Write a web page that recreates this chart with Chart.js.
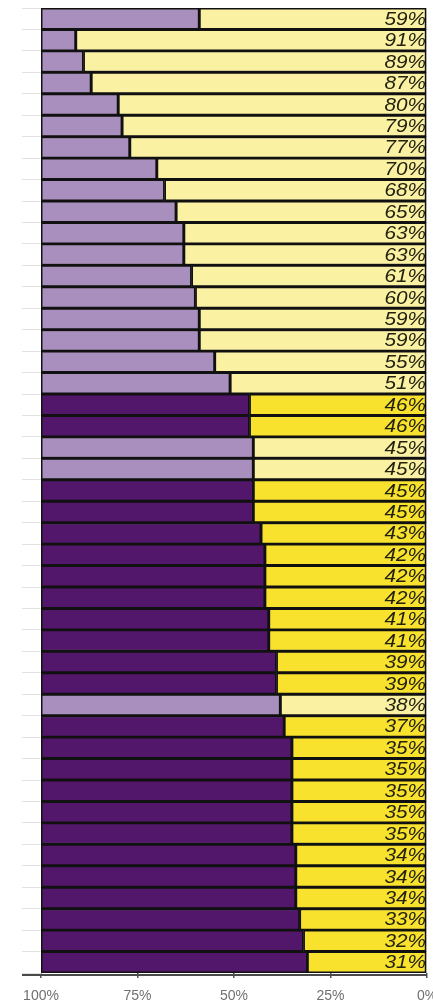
<!DOCTYPE html>
<html>
<head>
<meta charset="utf-8">
<script src="https://cdn.jsdelivr.net/npm/chart.js@4"></script>
<style>
  html,body{margin:0;padding:0;background:#fff;}
  #wrap{width:433px;height:1006px;position:relative;}
</style>
</head>
<body>
<div id="wrap"><canvas id="myChart" width="433" height="1006"></canvas></div>
<script>
// share of each row (yellow part), top to bottom
let values = [59,91,89,87,80,79,77,70,68,65,63,63,61,60,59,59,55,51,46,46,45,45,45,45,43,42,42,42,41,41,39,39,38,37,35,35,35,35,35,34,34,34,33,32,31];
// light = pale colours, dark = strong colours
let shade = ["L","L","L","L","L","L","L","L","L","L","L","L","L","L","L","L","L","L","D","D","L","L","D","D","D","D","D","D","D","D","D","D","L","D","D","D","D","D","D","D","D","D","D","D","D"];
let rows = values.map((v,i) => "row" + (i+1));
let xTicks = [100,75,50,25,0];

let color = {"yel_L":"#fbf1a3","yel_D":"#f8e22e","pur_L":"#a98fbd","pur_D":"#52166b"};

// 右端のパーセント表示
const labelPlugin = {
  id:"barLabels",
  afterDatasetsDraw(chart){
    const ctx = chart.ctx;
    const meta = chart.getDatasetMeta(0);
    const right = chart.chartArea.right - 1;
    ctx.save();
    ctx.font = "italic 18px 'Liberation Sans', Arial, sans-serif";
    ctx.fillStyle = "#22220f";
    ctx.textAlign = "right";
    ctx.textBaseline = "middle";
    meta.data.forEach((bar,i) => {
      ctx.save();
      ctx.translate(right, bar.y + 1);
      ctx.scale(1.15, 1);
      ctx.fillText(values[i] + "%", 0, 0);
      ctx.restore();
    });
    ctx.restore();
  },
  afterDraw(chart){
    // bottom axis line runs under the y tick area too
    const ctx = chart.ctx;
    const a = chart.chartArea;
    ctx.save();
    ctx.strokeStyle = "#4a4a4a";
    ctx.lineWidth = 2;
    ctx.beginPath();
    ctx.moveTo(22, a.bottom + 2);
    ctx.lineTo(a.right, a.bottom + 2);
    ctx.stroke();
    ctx.restore();
  }
};

const data = {
  labels: rows,
  datasets: [
    {
      data: values,
      backgroundColor: shade.map(s => color["yel_" + s]),
      borderColor: "#111",
      borderWidth: 1.8,
      borderSkipped: false,
      barPercentage: 1,
      categoryPercentage: 1
    },
    {
      data: values.map(v => 100 - v),
      backgroundColor: shade.map(s => color["pur_" + s]),
      borderColor: "#111",
      borderWidth: 1.8,
      borderSkipped: false,
      barPercentage: 1,
      categoryPercentage: 1
    }
  ]
};

const config = {
  type: "bar",
  data: data,
  plugins: [labelPlugin],
  options: {
    indexAxis: "y",
    responsive: false,
    animation: false,
    layout: {padding: {top: 8, right: 6, left: 0, bottom: 0}},
    plugins: {legend: {display: false}, tooltip: {enabled: false}},
    scales: {
      x: {
        type: "linear",
        stacked: true,
        reverse: true,
        min: 0,
        max: 100,
        afterBuildTicks: (scale) => { scale.ticks = xTicks.map(v => ({value: v})); },
        afterFit: (scale) => { scale.height = 33; scale.paddingLeft = 0; scale.paddingRight = 0; },
        border: {display: false},
        grid: {drawOnChartArea: false, drawTicks: true, tickLength: 5, color: "#555", lineWidth: 1.5},
        ticks: {
          padding: 10,
          color: "#707070",
          font: {size: 14, family: "'Liberation Sans', Arial, sans-serif"},
          maxRotation: 0,
          callback: (v) => v + "%"
        }
      },
      y: {
        stacked: true,
        afterFit: (scale) => { scale.width = 41; },
        border: {display: false},
        grid: {drawOnChartArea: false, drawTicks: true, tickLength: 19, color: "#e2e2e2"},
        ticks: {display: false}
      }
    }
  }
};

new Chart(document.getElementById("myChart"), config);
</script>
</body>
</html>
